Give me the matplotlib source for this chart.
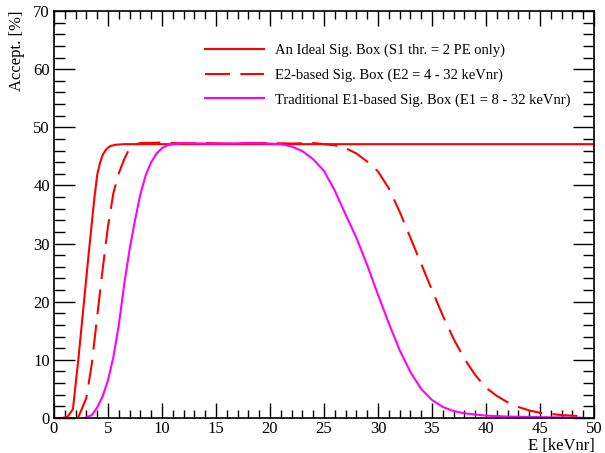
import matplotlib
matplotlib.use("Agg")
import matplotlib.pyplot as plt
from matplotlib.ticker import MultipleLocator

plt.rcParams['font.family'] = ['Liberation Serif', 'DejaVu Serif']

# Ideal signal box (S1 threshold only)
ideal_x = [0.25, 0.75, 1.25, 1.75, 2.25, 2.75, 3.25, 3.75, 4.0, 4.25, 4.5, 4.75, 5.0, 5.25, 5.75, 6.5, 8, 10, 20, 30, 40, 50]
ideal_y = [0.0, 0.0, 0.2, 1.5, 10.0, 19.5, 29.0, 38.0, 41.8, 43.8, 45.2, 46.0, 46.5, 46.8, 47.0, 47.1, 47.1, 47.1, 47.1, 47.1, 47.1, 47.1]

# E2-based signal box
e2_x = [2.2, 2.5, 3.0, 3.5, 4.0, 4.5, 5.0, 5.5, 6.0, 6.5, 7.0, 7.5, 8.0, 9, 10, 12, 14, 16, 18, 20, 22, 24,
        25, 26, 27, 28, 29, 30, 31, 32, 33, 34, 35, 36, 37, 38, 39, 40, 41, 42, 43, 44, 45, 46, 47, 48, 49.2]
e2_y = [0.0, 1.2, 3.5, 9.3, 17.5, 25.5, 33.0, 38.7, 42.1, 44.5, 46.4, 47.0, 47.3, 47.3, 47.4, 47.2, 47.3, 47.2, 47.3, 47.3, 47.2, 47.3,
        47.1, 46.9, 46.4, 45.5, 44.1, 42.4, 39.5, 35.5, 31.0, 26.5, 22.0, 17.6, 13.6, 10.2, 7.4, 5.2, 3.8, 2.7, 1.9, 1.3, 0.9, 0.7, 0.5, 0.4, 0.3]

# Traditional E1-based signal box
e1_x = [2.85, 3.5, 4.0, 4.5, 5.0, 5.5, 6.0, 6.5, 7.0, 7.5, 8.0, 8.5, 9.0, 9.5, 10.0, 10.5, 11.0, 12, 14, 16, 18, 20, 21, 22, 23, 24,
        25, 26, 27, 28, 29, 30, 31, 32, 33, 34, 35, 36, 37, 38, 39, 40, 42, 45, 49]
e1_y = [0.0, 0.5, 1.8, 3.7, 6.5, 10.5, 16.0, 23.0, 29.0, 34.0, 38.5, 41.8, 44.0, 45.5, 46.4, 46.9, 47.1, 47.3, 47.2, 47.2, 47.3, 47.2, 47.1, 46.7, 45.9, 44.5,
        42.5, 39.1, 35.0, 31.0, 26.3, 21.2, 16.3, 11.7, 7.9, 5.0, 3.1, 1.9, 1.2, 0.8, 0.6, 0.4, 0.25, 0.15, 0.05]

labels = ["An Ideal Sig. Box (S1 thr. = 2 PE only)",
          "E2-based Sig. Box (E2 = 4 - 32 keVnr)",
          "Traditional E1-based Sig. Box (E1 = 8 - 32 keVnr)"]

fig = plt.figure(figsize=(6.05, 4.53), dpi=100)
ax = fig.add_axes([54/605, 35/453, 540/605, 407/453])

ax.plot(ideal_x, ideal_y, color='#ff0000', lw=1.5, label=labels[0])
ax.plot(e2_x, e2_y, color='#ff0000', lw=1.5, dashes=(12, 5), label=labels[1])
ax.plot(e1_x, e1_y, color='#ff00ff', lw=1.5, label=labels[2])

ax.set_xlim(0, 50)
ax.set_ylim(0, 70)
ax.xaxis.set_major_locator(MultipleLocator(5))
ax.xaxis.set_minor_locator(MultipleLocator(1))
ax.yaxis.set_major_locator(MultipleLocator(10))
ax.yaxis.set_minor_locator(MultipleLocator(2))
ax.tick_params(which='both', direction='in', top=True, right=True, labelsize=12, width=1)
ax.tick_params(axis='x', which='major', length=11, pad=2)
ax.tick_params(axis='x', which='minor', length=6)
ax.tick_params(axis='y', which='major', length=15, pad=3)
ax.tick_params(axis='y', which='minor', length=8)
for s in ax.spines.values():
    s.set_linewidth(1.2)

ax.set_xlabel("E [keVnr]", fontsize=12, ha='right', va='top')
ax.xaxis.set_label_coords(1.002, -0.05)
ax.set_ylabel("Accept. [%]", fontsize=12, loc='top', labelpad=6)

leg = ax.legend(loc='upper left', bbox_to_anchor=(0.255, 0.952), frameon=False, fontsize=10.5,
                handlelength=4.05, handletextpad=0.75, labelspacing=0.77)

fig.savefig("out.png", dpi=100)
